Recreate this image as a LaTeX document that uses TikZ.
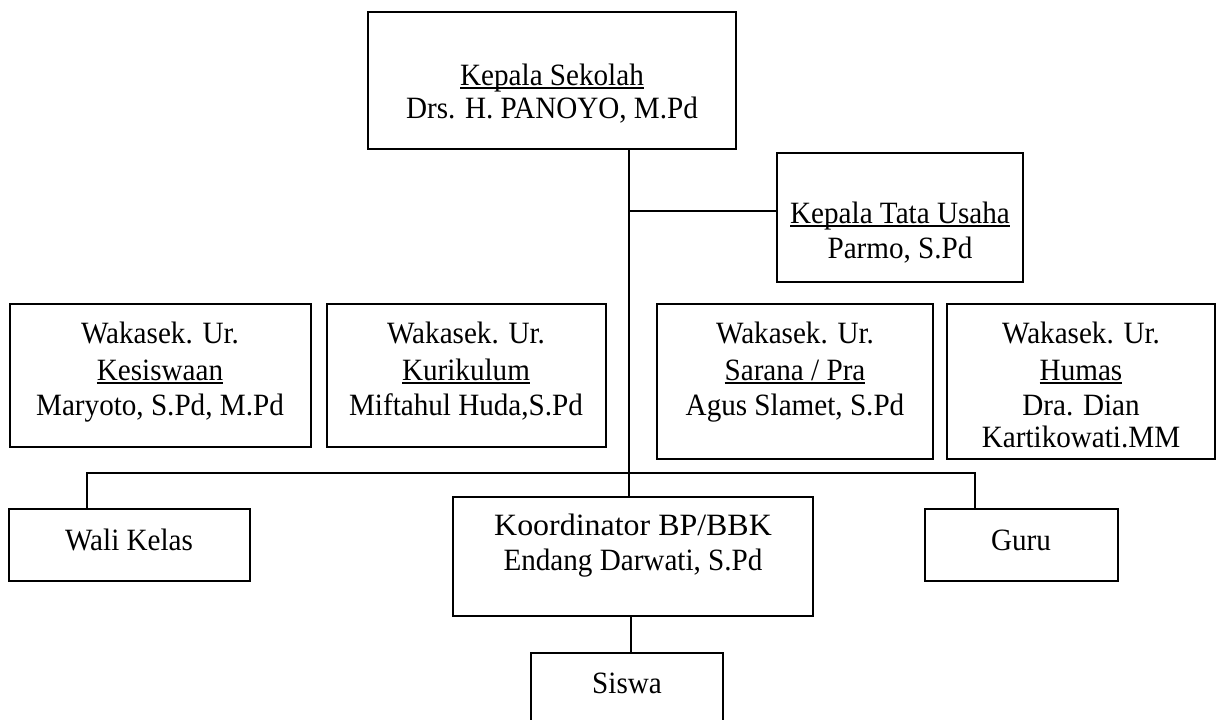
\documentclass[tikz,border=0pt]{standalone}
\usepackage{fontspec}
\setmainfont[FakeStretch=0.94]{Liberation Serif}
\newfontfamily\widefont[FakeStretch=1.03]{Liberation Serif}
\usetikzlibrary{fit}
\newcommand\ulx[1]{\setbox0\hbox{#1}\rlap{\rule[-2.1pt]{\wd0}{0.9pt}}\box0}
\tikzset{
  px/.style={x=0.5pt,y=-0.5pt},
  box/.style={draw, line width=1pt, inner sep=0pt, rectangle},
  txt/.style={anchor=base, inner sep=0pt, font=\fontsize{15.5}{17}\selectfont},
  link/.style={draw, line width=1pt}
}
\begin{document}
\begin{tikzpicture}[px]
\useasboundingbox (0,0) rectangle (1218,719);
% boxes
\node[box, fit={(368,12) (736,149)}] (ks) {};
\node[box, fit={(777,153) (1023,282)}] (tu) {};
\node[box, fit={(10,304) (311,447)}] (w1) {};
\node[box, fit={(327,304) (606,447)}] (w2) {};
\node[box, fit={(657,304) (933,459)}] (w3) {};
\node[box, fit={(947,304) (1215,459)}] (w4) {};
\node[box, fit={(9,509) (250,581)}] (wk) {};
\node[box, fit={(453,497) (813,616)}] (kb) {};
\node[box, fit={(925,509) (1118,581)}] (gr) {};
\begin{scope}
\clip (0,0) rectangle (1218,719);
\node[box, fit={(531,653) (723,740)}] (sw) {};
\end{scope}
% texts
\node[txt] (ks1) at (552,85) {\ulx{Kepala Sekolah}};
\node[txt] (ks2) at (552,118) {Drs. H. PANOYO, M.Pd};
\node[txt] (tu1) at (900,223) {\ulx{Kepala Tata Usaha}};
\node[txt] (tu2) at (900,258) {Parmo, S.Pd};
\node[txt] (w1a) at (160,343) {Wakasek. Ur.};
\node[txt] (w1b) at (160,380) {\ulx{Kesiswaan}};
\node[txt] (w1c) at (160,415) {Maryoto, S.Pd, M.Pd};
\node[txt] (w2a) at (466,343) {Wakasek. Ur.};
\node[txt] (w2b) at (466,380) {\ulx{Kurikulum}};
\node[txt] (w2c) at (466,415) {Miftahul Huda,S.Pd};
\node[txt] (w3a) at (795,343) {Wakasek. Ur.};
\node[txt] (w3b) at (795,380) {\ulx{Sarana / Pra}};
\node[txt] (w3c) at (795,415) {Agus Slamet, S.Pd};
\node[txt] (w4a) at (1081,343) {Wakasek. Ur.};
\node[txt] (w4b) at (1081,380) {\ulx{Humas}};
\node[txt] (w4c) at (1081,415) {Dra. Dian};
\node[txt] (w4d) at (1081,447) {Kartikowati.MM};
\node[txt] (wk1) at (129,550) {Wali Kelas};
\node[txt] (kb1) at (633,535) {\widefont Koordinator BP/BBK};
\node[txt] (kb2) at (633,570) {Endang Darwati, S.Pd};
\node[txt] (gr1) at (1021,550) {Guru};
\node[txt] (sw1) at (627,693) {Siswa};
% connectors
\coordinate (trunk) at (629,0);
\coordinate (tuj) at (629,211);
\coordinate (barL) at (87,473);
\coordinate (barR) at (975,473);
\coordinate (sj) at (631,0);
\path[link] (ks.south -| trunk) -- (kb.north -| trunk);
\path[link] (tuj) -- (tuj -| tu.west);
\path[link] (wk.north -| barL) -- (barL) -- (barR) -- (gr.north -| barR);
\path[link] (kb.south -| sj) -- (sw.north -| sj);
\end{tikzpicture}
\end{document}
